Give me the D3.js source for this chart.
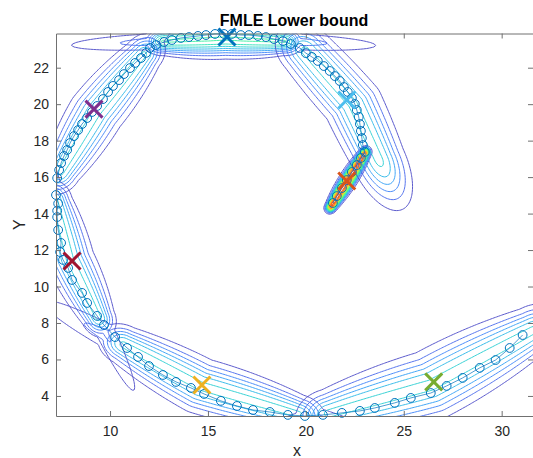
<!DOCTYPE html>
<html>
<head>
<meta charset="utf-8">
<script src="https://cdn.jsdelivr.net/npm/d3@7"></script>
<style>
body { margin: 0; background: #fff; }
text { font-family: "Liberation Sans", Arial, sans-serif; }
</style>
</head>
<body>
<script>
// observed points along the track (in drawing order)
var trackX = [31.07, 30.41, 29.69, 28.88, 28.01, 27.19, 26.38, 25.36, 24.54, 23.52, 22.76, 21.84, 20.87,
    19.95, 19.08, 18.16, 17.30, 16.48, 15.66, 14.80, 14.13, 13.37, 12.70, 11.99, 11.43, 10.87, 10.26,
    9.69, 9.34, 8.83, 8.57, 8.06, 7.86, 7.60, 7.45, 7.50, 7.35, 7.30, 7.30, 7.35, 7.24,
    7.30, 7.40, 7.50, 7.65, 7.81, 7.96, 8.16, 8.37, 8.57, 8.83, 9.08, 9.34, 9.64, 9.90, 10.15, 10.46, 10.71, 11.02, 11.28, 11.58, 11.84, 12.04,
    12.35, 12.76, 13.16, 13.62, 14.03, 14.49, 14.90, 15.36, 15.82, 16.22, 16.68, 17.09, 17.55, 17.96, 18.37, 18.83, 19.23,
    19.69, 20.00, 20.31, 20.61, 20.92, 21.22, 21.48, 21.73, 21.94, 22.14, 22.35, 22.50, 22.60, 22.70, 22.76, 22.81, 22.86, 22.91,
    23.01, 22.81, 22.60, 22.35, 22.09, 21.84, 21.58, 21.38];
var trackY = [7.34, 6.63, 5.97, 5.54, 4.99, 4.55, 4.16, 3.89, 3.62, 3.34, 3.18, 3.07, 2.96,
    2.90, 2.96, 3.12, 3.23, 3.45, 3.73, 4.11, 4.44, 4.77, 5.15, 5.64, 6.14, 6.63, 7.23,
    7.89, 8.39, 9.10, 9.65, 10.36, 11.02, 11.46, 11.89, 12.39, 13.10, 13.81, 14.16, 14.55, 15.02,
    15.95, 16.39, 16.77, 17.16, 17.49, 17.87, 18.25, 18.58, 18.91, 19.24, 19.57, 19.90, 20.28, 20.67, 21.00, 21.32, 21.65, 21.98, 22.26, 22.53, 22.81, 23.08,
    23.24, 23.41, 23.52, 23.63, 23.68, 23.74, 23.79, 23.85, 23.85, 23.85, 23.79, 23.79, 23.74, 23.68, 23.57, 23.46, 23.30,
    23.08, 22.80, 22.59, 22.37, 22.09, 21.82, 21.54, 21.27, 20.94, 20.67, 20.34, 20.01, 19.68, 19.30, 18.91, 18.53, 18.14, 17.76,
    17.38, 17.05, 16.66, 16.28, 15.84, 15.40, 14.96, 14.58];

// estimated component centres
var centreX = [15.97, 22.09, 14.69, 9.18, 26.53, 22.09, 8.06];
var centreY = [23.68, 15.79, 4.60, 19.73, 4.77, 20.23, 11.40];
var centreColor = ["#0072BD", "#D95319", "#EDB120", "#7E2F8E", "#77AC30", "#4DBEEE", "#A2142F"];

// ridge of each component (start, middle, end)
var ridgeTop        = [[12.7, 23.45], [15.9, 23.6], [18.9, 23.45]];
var ridgeCentre     = [[21.3, 14.4], [22.1, 15.75], [23.0, 17.3]];
var ridgeLowerLeft  = [[10.7, 6.8], [14.6, 4.55], [19.6, 3.0]];
var ridgeUpperLeft  = [[7.5, 16.3], [9.3, 19.55], [11.7, 22.7]];
var ridgeLowerRight = [[21.2, 3.05], [26.4, 4.6], [31.6, 7.6]];
var ridgeUpperRight = [[20.0, 22.9], [22.4, 20.0], [23.7, 17.0]];
var ridgeLeft       = [[7.2, 14.7], [7.95, 11.5], [9.4, 8.3]];

var ridges     = [ridgeTop, ridgeCentre, ridgeLowerLeft, ridgeUpperLeft, ridgeLowerRight, ridgeUpperRight, ridgeLeft];
var ridgeWidth = [0.55, 0.2, 0.8, 0.75, 1.0, 0.8, 0.65];
var ridgeTaper = [0.3, 0.3, 0.3, 0.3, 0.3, 0.1, 0.3];
var ridgePeak  = [1.3, 3.3, 1.0, 1.0, 1.0, 1.0, 1.0];
var tailStart  = [1.3, 1.3, 1.3, 1.3, 1.3, 1.3, 1.3];
var tailEnd    = [1.3, 1.3, 1.3, 1.3, 1.3, 2.2, 1.3];
var tailLeak   = [0.3, 0.03, 0.4, 0.25, 0.25, 0.2, 0.35];

var xTicks = [10, 15, 20, 25, 30];
var yTicks = [4, 6, 8, 10, 12, 14, 16, 18, 20, 22];

var margin = { top: 33.5, right: 0, bottom: 42, left: 56 },
    width = 533 - margin.left - margin.right,
    height = 458 - margin.top - margin.bottom;

var svg = d3.select("body").append("svg")
    .attr("width", 533)
    .attr("height", 458);

var g = svg.append("g")
    .attr("transform", "translate(" + margin.left + "," + margin.top + ")");

var xScale = d3.scaleLinear().domain([7.24, 31.6]).range([0, width]);
var yScale = d3.scaleLinear().domain([2.9, 23.875]).range([height, 0]);

svg.append("defs").append("clipPath").attr("id", "plot")
    .append("rect").attr("width", width).attr("height", height);

// value of one component at a point: a tapered ridge along a polyline
function ridgeValue(px, py, c) {
    var pts = ridges[c], sigma = ridgeWidth[c];
    var n = pts.length - 1, total = 0, segs = [];
    for (var k = 0; k < n; k++) {
        var vx = pts[k + 1][0] - pts[k][0], vy = pts[k + 1][1] - pts[k][1], L = Math.hypot(vx, vy);
        segs.push({ a: pts[k], ux: vx / L, uy: vy / L, L: L, start: total });
        total += L;
    }
    var best = Infinity, T = 0, perp = 0;
    segs.forEach(function (sg, k) {
        var wx = px - sg.a[0], wy = py - sg.a[1];
        var t = wx * sg.ux + wy * sg.uy;
        var d = -wx * sg.uy + wy * sg.ux;
        var tc = t;
        if (t < 0 && k > 0) tc = 0;
        if (t > sg.L && k < n - 1) tc = sg.L;
        var off = t - tc;
        var dist = Math.hypot(d, off);
        if (dist < best) {
            best = dist;
            T = sg.start + tc;
            perp = (tc === t) ? d : dist;
        }
    });
    var u = Math.max(-1, Math.min(1, (T - total / 2) / (total / 2)));
    var se = sigma * (1 - ridgeTaper[c] * u * u);
    var s = 0, tau = 1;
    if (T < 0) { s = -T; tau = tailStart[c] * se; }
    if (T > total) { s = T - total; tau = tailEnd[c] * se; }
    var core = Math.exp(-perp * perp / (2 * se * se)) * Math.exp(-s * s / (2 * tau * tau));
    var sl = 0.6 * sigma;
    var leak = tailLeak[c] * Math.exp(-perp * perp / (2 * sl * sl)) * Math.exp(-s * s / 24.5);
    return ridgePeak[c] * Math.max(core, leak);
}

// one grid per component, a bit bigger than the plot so edges are clipped away
var cell = 1.5, pad = 30;
var nx = Math.ceil((width + 2 * pad) / cell) + 1,
    ny = Math.ceil((height + 2 * pad) / cell) + 1;

var levels = d3.range(1, 21).map(i => 0.16 * i);
var levelColor = v => d3.interpolateTurbo(0.04 + 0.25 * v);
var projection = d3.geoIdentity().scale(cell).translate([-pad - cell / 2, -pad - cell / 2]);
var contourLayer = g.append("g").attr("clip-path", "url(#plot)");

ridges.forEach(function (pts, c) {
    var values = new Float64Array(nx * ny);
    for (var j = 0; j < ny; j++) {
        var dy = yScale.invert(-pad + j * cell);
        for (var i = 0; i < nx; i++) {
            values[j * nx + i] = ridgeValue(xScale.invert(-pad + i * cell), dy, c);
        }
    }
    var contours = d3.contours().size([nx, ny]).thresholds(levels)(values);
    contourLayer.append("g")
        .selectAll("path")
        .data(contours.filter(d => d.coordinates.length))
        .enter()
        .append("path")
        .attr("d", d3.geoPath(projection))
        .attr("fill", "none")
        .attr("stroke", d => levelColor(d.value))
        .attr("stroke-width", 0.9);
});

// track
var track = trackX.map((x, i) => [x, trackY[i]]);
g.append("path")
    .datum(track)
    .attr("fill", "none")
    .attr("stroke", "#0072BD")
    .attr("stroke-width", 0.7)
    .attr("d", d3.line().x(d => xScale(d[0])).y(d => yScale(d[1])));

g.selectAll(".pt")
    .data(track)
    .enter()
    .append("circle")
    .attr("class", "pt")
    .attr("cx", d => xScale(d[0]))
    .attr("cy", d => yScale(d[1]))
    .attr("r", 4.4)
    .attr("fill", "none")
    .attr("stroke", "#0072BD")
    .attr("stroke-width", 1);

// centre crosses
var h = 8.5;
centreX.forEach(function (x, i) {
    var cx = xScale(x), cy = yScale(centreY[i]);
    g.append("path")
        .attr("d", "M" + (cx - h) + "," + (cy - h) + "L" + (cx + h) + "," + (cy + h) +
            "M" + (cx - h) + "," + (cy + h) + "L" + (cx + h) + "," + (cy - h))
        .attr("stroke", centreColor[i])
        .attr("stroke-width", 3);
});

// AXES
function styleAxis(sel) {
    sel.selectAll("path, line").attr("stroke", "#707070");
    sel.selectAll("text").attr("fill", "#262626").style("font-size", "14px");
}

g.append("g")
    .attr("transform", "translate(0," + height + ")")
    .call(d3.axisBottom(xScale).tickValues(xTicks).tickSize(-5).tickSizeOuter(0).tickPadding(10))
    .call(styleAxis);

g.append("g")
    .call(d3.axisLeft(yScale).tickValues(yTicks).tickSize(-5).tickSizeOuter(0).tickPadding(7))
    .call(styleAxis);

g.append("g")
    .call(d3.axisTop(xScale).tickValues(xTicks).tickSize(-5).tickSizeOuter(0).tickFormat(""))
    .call(styleAxis);

g.append("g")
    .attr("transform", "translate(" + width + ",0)")
    .call(d3.axisRight(yScale).tickValues(yTicks).tickSize(-5).tickSizeOuter(0).tickFormat(""))
    .call(styleAxis);

svg.append("text")
    .attr("x", 294)
    .attr("y", 26)
    .attr("text-anchor", "middle")
    .style("font-size", "16px")
    .style("font-weight", "bold")
    .attr("fill", "#000")
    .text("FMLE Lower bound");

svg.append("text")
    .attr("x", 297)
    .attr("y", 456)
    .attr("text-anchor", "middle")
    .style("font-size", "16px")
    .attr("fill", "#262626")
    .text("x");

svg.append("text")
    .attr("transform", "translate(25," + (margin.top + height / 2) + ") rotate(-90)")
    .attr("text-anchor", "middle")
    .style("font-size", "16px")
    .attr("fill", "#262626")
    .text("Y");
</script>
</body>
</html>
